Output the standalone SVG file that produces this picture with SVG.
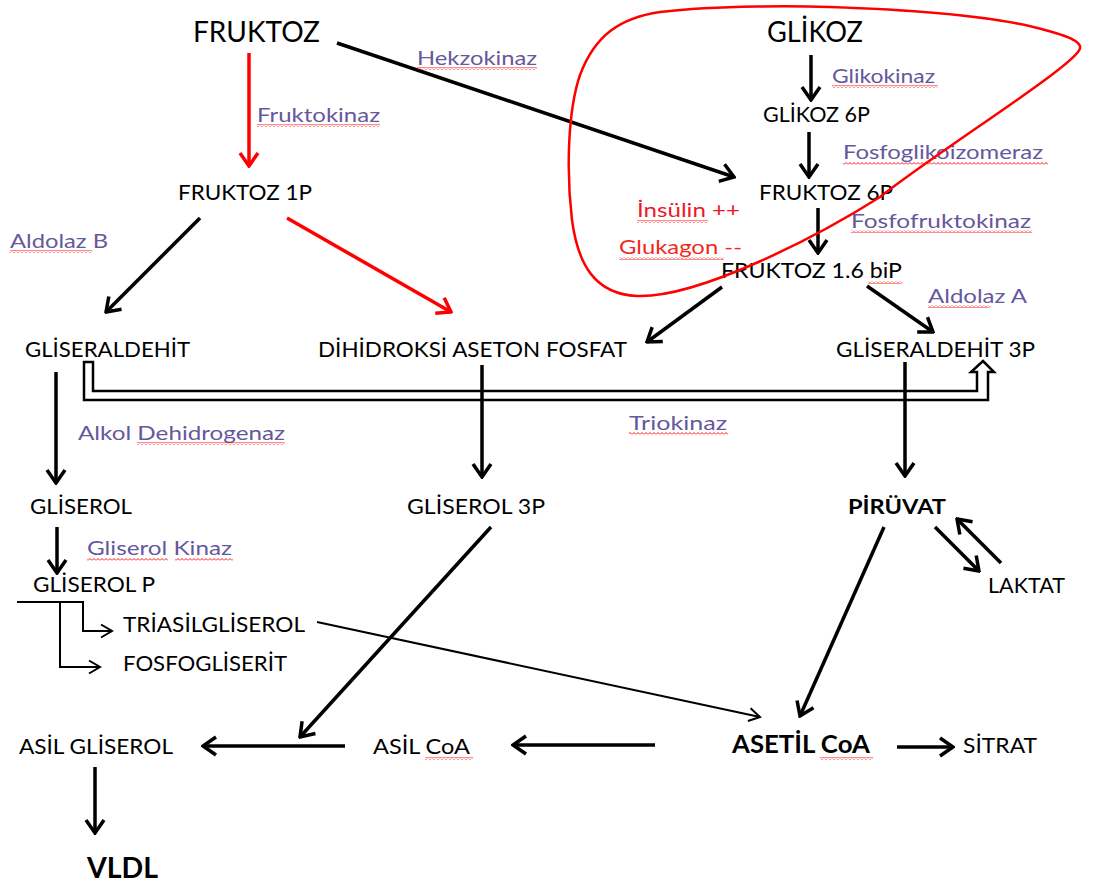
<svg xmlns="http://www.w3.org/2000/svg" width="1098" height="884" viewBox="0 0 1098 884">
<style>
text{font-family:Lato,"Liberation Sans",sans-serif;font-size:21px;fill:#000}
.big{font-size:29px}
.b{font-weight:bold}
.e{font-size:20px;fill:#66589c}
.rd{font-size:20px;fill:#ec1a2a}
.c{fill:none;stroke:#000;stroke-width:3.5}
.cr{stroke:#f00}
.t{stroke-width:2}
.w{fill:url(#wavy)}
</style>
<defs>
<pattern id="wavy" width="4" height="3" patternUnits="userSpaceOnUse"><path d="M0,2.5 L2,0.5 L4,2.5" fill="none" stroke="#f00" stroke-width="0.9"/></pattern>
<marker id="ah" viewBox="0 0 17 22" refX="15" refY="11" markerWidth="17" markerHeight="22" markerUnits="userSpaceOnUse" orient="auto"><path d="M2,2 L15,11 L2,20" fill="none" stroke="#000" stroke-width="3.5"/></marker>
<marker id="ahr" viewBox="0 0 17 22" refX="15" refY="11" markerWidth="17" markerHeight="22" markerUnits="userSpaceOnUse" orient="auto"><path d="M2,2 L15,11 L2,20" fill="none" stroke="#f00" stroke-width="3.5"/></marker>
<marker id="aht" viewBox="0 0 14 16" refX="12" refY="8" markerWidth="14" markerHeight="16" markerUnits="userSpaceOnUse" orient="auto"><path d="M1,1.5 L12,8 L1,14.5" fill="none" stroke="#000" stroke-width="2"/></marker>
</defs>
<rect width="1098" height="884" fill="#fff"/>

<g id="triokinaz-arrow">
<path d="M84,362 L93,362 L93,391 L977,391 L977,372 L971,372 L983,361 L994,372 L988,372 L988,400 L84,400 Z" fill="#fff" stroke="#000" stroke-width="2.5" stroke-linejoin="miter"/>
</g>

<g id="connectors">
<path class="c cr" d="M249,53 L249,166" marker-end="url(#ahr)"/>
<path class="c" d="M337,43 L734,177" marker-end="url(#ah)"/>
<path class="c" d="M811,55 L811,100" marker-end="url(#ah)"/>
<path class="c" d="M809,132 L809,177" marker-end="url(#ah)"/>
<path class="c" d="M818,208 L818,253" marker-end="url(#ah)"/>
<path class="c" d="M200,218 L106,312" marker-end="url(#ah)"/>
<path class="c cr" d="M287,218 L451,312" marker-end="url(#ahr)"/>
<path class="c" d="M722,287 L647,342" marker-end="url(#ah)"/>
<path class="c" d="M867,286 L933,332" marker-end="url(#ah)"/>
<path class="c" d="M56,372 L56,483" marker-end="url(#ah)"/>
<path class="c" d="M482,365 L482,477" marker-end="url(#ah)"/>
<path class="c" d="M905,362 L905,476" marker-end="url(#ah)"/>
<path class="c" d="M57,527 L57,573" marker-end="url(#ah)"/>
<path class="c" d="M884,527 L800,716" marker-end="url(#ah)"/>
<path class="c" d="M935,527 L979,571" marker-end="url(#ah)"/>
<path class="c" d="M1001,563 L957,519" marker-end="url(#ah)"/>
<path class="c" d="M491,527 L300,737" marker-end="url(#ah)"/>
<path class="c" d="M655,745 L513,745" marker-end="url(#ah)"/>
<path class="c" d="M345,746 L203,746" marker-end="url(#ah)"/>
<path class="c" d="M897,747 L953,747" marker-end="url(#ah)"/>
<path class="c" d="M95,767 L95,833" marker-end="url(#ah)"/>
<path class="c t" d="M317,622 L760,717" marker-end="url(#aht)"/>
<path class="c t" d="M17,602 L83,602 L83,631 L112,631" marker-end="url(#aht)"/>
<path class="c t" d="M60,602 L60,667 L100,667" marker-end="url(#aht)"/>
</g>

<g id="fruktoz"><text class="big" x="193" y="42" textLength="127" lengthAdjust="spacingAndGlyphs">FRUKTOZ</text></g>
<g id="glikoz"><text class="big" x="767" y="42" textLength="96" lengthAdjust="spacingAndGlyphs">GLİKOZ</text></g>
<g id="glikoz6p"><text x="763" y="122" textLength="107" lengthAdjust="spacingAndGlyphs">GLİKOZ 6P</text></g>
<g id="fruktoz6p"><text x="759" y="200" textLength="134" lengthAdjust="spacingAndGlyphs">FRUKTOZ 6P</text></g>
<g id="fruktoz16bip"><text x="721" y="278" textLength="181" lengthAdjust="spacingAndGlyphs">FRUKTOZ 1.6 biP</text><rect class="w" x="868" y="281" width="34" height="3"/></g>
<g id="fruktoz1p"><text x="178" y="200" textLength="134" lengthAdjust="spacingAndGlyphs">FRUKTOZ 1P</text></g>
<g id="gliseraldehit"><text x="25" y="357" textLength="165" lengthAdjust="spacingAndGlyphs">GLİSERALDEHİT</text></g>
<g id="dhap"><text x="318" y="357" textLength="309" lengthAdjust="spacingAndGlyphs">DİHİDROKSİ ASETON FOSFAT</text></g>
<g id="gliseraldehit3p"><text x="836" y="357" textLength="199" lengthAdjust="spacingAndGlyphs">GLİSERALDEHİT 3P</text></g>
<g id="gliserol"><text x="30" y="514" textLength="102" lengthAdjust="spacingAndGlyphs">GLİSEROL</text></g>
<g id="gliserol3p"><text x="407" y="514" textLength="138" lengthAdjust="spacingAndGlyphs">GLİSEROL 3P</text></g>
<g id="piruvat"><text class="b" x="848" y="514" font-size="22" textLength="98" lengthAdjust="spacingAndGlyphs">PİRÜVAT</text></g>
<g id="laktat"><text x="988" y="593" textLength="77" lengthAdjust="spacingAndGlyphs">LAKTAT</text></g>
<g id="gliserolp"><text x="33" y="592" textLength="122" lengthAdjust="spacingAndGlyphs">GLİSEROL P</text></g>
<g id="triasilgliserol"><text x="123" y="632" textLength="182" lengthAdjust="spacingAndGlyphs">TRİASİLGLİSEROL</text></g>
<g id="fosfogliserit"><text x="123" y="671" textLength="164" lengthAdjust="spacingAndGlyphs">FOSFOGLİSERİT</text></g>
<g id="asilgliserol"><text x="19" y="754" textLength="154" lengthAdjust="spacingAndGlyphs">ASİL GLİSEROL</text></g>
<g id="asilcoa"><text x="373" y="754" textLength="97" lengthAdjust="spacingAndGlyphs">ASİL CoA</text><rect class="w" x="425" y="757" width="48" height="3"/></g>
<g id="asetilcoa"><text class="b" x="732" y="753" style="font-size:25px" textLength="138" lengthAdjust="spacingAndGlyphs">ASETİL CoA</text><rect class="w" x="820" y="757" width="53" height="3"/></g>
<g id="sitrat"><text x="963" y="753" textLength="74" lengthAdjust="spacingAndGlyphs">SİTRAT</text></g>
<g id="vldl"><text class="big b" x="87" y="878" textLength="71" lengthAdjust="spacingAndGlyphs">VLDL</text></g>

<g id="enzymes">
<text class="e" x="417" y="65" textLength="120" lengthAdjust="spacingAndGlyphs">Hekzokinaz</text><rect class="w" x="417" y="67" width="120" height="3"/>
<text class="e" x="257" y="122" textLength="123" lengthAdjust="spacingAndGlyphs">Fruktokinaz</text><rect class="w" x="257" y="124" width="123" height="3"/>
<text class="e" x="832" y="83" textLength="103" lengthAdjust="spacingAndGlyphs">Glikokinaz</text><rect class="w" x="832" y="85" width="106" height="3"/>
<text class="e" x="843" y="159" textLength="200" lengthAdjust="spacingAndGlyphs">Fosfoglikoizomeraz</text><rect class="w" x="843" y="162" width="205" height="3"/>
<text class="e" x="851" y="228" textLength="180" lengthAdjust="spacingAndGlyphs">Fosfofruktokinaz</text><rect class="w" x="851" y="230" width="181" height="3"/>
<text class="e" x="928" y="303" textLength="99" lengthAdjust="spacingAndGlyphs">Aldolaz A</text><rect class="w" x="928" y="305" width="62" height="3"/>
<text class="e" x="10" y="248" textLength="98" lengthAdjust="spacingAndGlyphs">Aldolaz B</text><rect class="w" x="10" y="250" width="82" height="3"/>
<text class="e" x="629" y="430" textLength="98" lengthAdjust="spacingAndGlyphs">Triokinaz</text><rect class="w" x="629" y="432" width="99" height="3"/>
<text class="e" x="78" y="440" textLength="207" lengthAdjust="spacingAndGlyphs">Alkol Dehidrogenaz</text><rect class="w" x="137" y="442" width="148" height="3"/>
<text class="e" x="87" y="555" textLength="145" lengthAdjust="spacingAndGlyphs">Gliserol Kinaz</text><rect class="w" x="87" y="558" width="81" height="3"/><rect class="w" x="175" y="558" width="58" height="3"/>
</g>

<g id="hormones">
<text class="rd" x="637" y="217" textLength="103" lengthAdjust="spacingAndGlyphs">İnsülin ++</text><rect class="w" x="637" y="220" width="71" height="3"/>
<text class="rd" x="619" y="254" textLength="123" lengthAdjust="spacingAndGlyphs" style="fill:#f2281c">Glukagon --</text><rect class="w" x="619" y="257" width="105" height="3"/>
</g>

<g id="loop">
<path d="M1078,52 C1060,75 940,150 880,197 C820,235 700,298 637,296 C595,294 578,265 572,220 C566,170 568,110 580,75 C595,35 620,18 660,12 C720,5 800,6 830,7 C920,10 1000,17 1045,30 C1075,38 1085,44 1078,52 Z" fill="none" stroke="#f00" stroke-width="2.5"/>
</g>
</svg>
